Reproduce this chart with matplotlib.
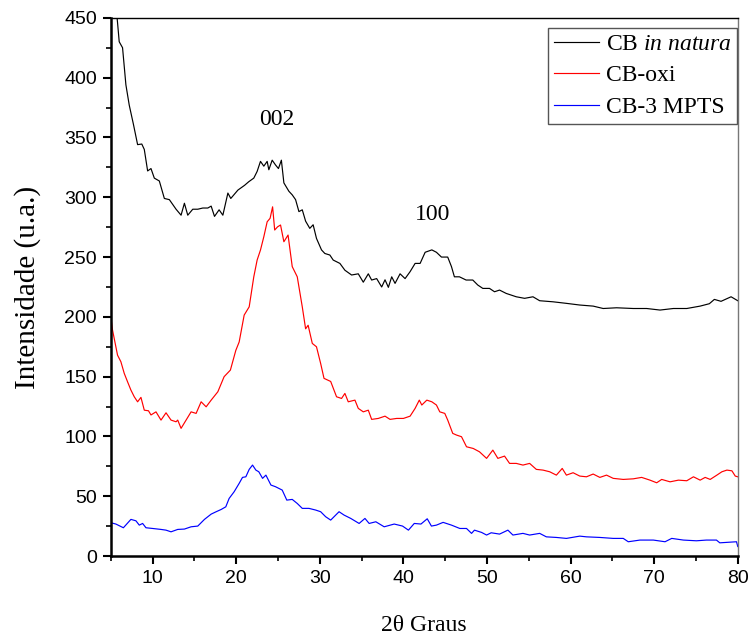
import matplotlib
matplotlib.use("Agg")
import matplotlib.pyplot as plt
from matplotlib.ticker import MultipleLocator

# values (2theta in degrees, intensity in a.u.)
x_natura = [5.0, 5.4, 5.8, 6.0, 6.4, 6.8, 7.2, 7.7, 8.2, 8.7, 9.0, 9.4, 9.8, 10.2, 10.8,
            11.4, 12.0, 12.4, 12.8, 13.4, 13.8, 14.2, 14.8, 15.4, 16.0, 16.6, 17.0, 17.4,
            17.95, 18.4, 19.0, 19.35, 20.2, 21.0, 21.5, 22.1, 22.5, 22.9, 23.3, 23.7, 23.9,
            24.3, 24.7, 25.05, 25.4, 25.7, 26.3, 26.7, 27.1, 27.5, 27.9, 28.3, 28.8, 29.2,
            29.6, 30.2, 30.6, 31.2, 31.6, 32.4, 33.0, 33.8, 34.6, 35.2, 35.8, 36.2, 36.8,
            37.4, 37.8, 38.2, 38.6, 39.0, 39.6, 40.2, 40.8, 41.4, 42.0, 42.6, 43.4, 43.95,
            44.55, 45.3, 45.75, 46.1, 46.7, 47.5, 48.3, 48.9, 49.5, 50.3, 50.9, 51.5, 52.3,
            53.5, 54.5, 55.5, 56.3, 57.9, 59.5, 61.1, 62.7, 63.9, 65.5, 67.5, 69.1, 70.7,
            72.3, 73.9, 75.5, 76.6, 77.2, 78.0, 79.2, 80.0]
y_natura = [520, 475, 446, 430, 425, 394, 377, 361, 344, 344.5, 340, 322, 324, 316, 313.6,
            299, 298, 294, 290, 285, 295, 285, 290, 290, 291, 291, 292.6, 284,
            289.5, 285, 303.5, 299, 306, 310, 313, 316, 321.6, 330, 326, 330, 323,
            331, 327, 324, 331, 312, 305, 302, 298, 288, 289.5, 280, 274, 277,
            265.6, 256, 253, 251.7, 247.5, 244.7, 239, 235, 236, 229, 236, 230.8, 232,
            225, 231, 224.7, 233.5, 228, 236, 232, 237.8, 244.7, 244.7, 254, 256, 254,
            250, 250, 242, 233.5, 233.5, 230.8, 230.8, 226.6, 223.8, 223.8, 221, 222.4, 219.6,
            216.8, 215.5, 216.8, 213.5, 212.6, 211.3, 209.9, 209, 207, 207.6, 207, 207, 205.7,
            207, 207, 209, 211, 214.6, 213, 216.8, 213.5]

x_oxi = [5.0, 5.2, 5.6, 5.8, 6.2, 6.6, 7.0, 7.4, 7.8, 8.2, 8.6, 9.0, 9.5, 9.8, 10.4,
         11.0, 11.6, 12.2, 12.8, 13.0, 13.4, 14.0, 14.6, 15.2, 15.8, 16.4, 17.0, 17.8,
         18.55, 19.3, 19.95, 20.35, 20.95, 21.55, 22.1, 22.5, 22.9, 23.3, 23.7, 24.05,
         24.35, 24.6, 24.95, 25.3, 25.7, 26.2, 26.7, 27.3, 27.9, 28.3, 28.6, 29.1, 29.6,
         30.1, 30.5, 31.3, 32.0, 32.6, 33.0, 33.4, 34.2, 34.6, 35.2, 35.8, 36.2, 37.0,
         37.8, 38.4, 39.2, 40.0, 40.8, 41.4, 41.9, 42.2, 42.8, 43.4, 43.95, 44.35, 44.95,
         45.3, 45.9, 46.35, 46.95, 47.55, 48.35, 49.1, 49.95, 50.7, 51.3, 52.1, 52.7, 53.5,
         54.3, 55.1, 55.9, 56.7, 57.5, 58.3, 59.0, 59.5, 60.3, 61.1, 61.9, 62.7, 63.5, 64.3,
         65.1, 66.3, 67.5, 68.5, 69.5, 70.3, 70.9, 71.9, 72.9, 73.9, 74.7, 75.5, 76.1, 76.7,
         77.5, 78.1, 78.7, 79.3, 79.7, 80.0]
y_oxi = [200, 189, 175, 168, 162.5, 152.8, 145.7, 138.8, 133.2, 129, 132.7, 122, 121.5, 118, 120.6,
         113.7, 119.8, 113.7, 112.3, 113.7, 106.8, 113.7, 120.6, 119.3, 129, 124.8, 130.4, 137.4,
         150, 155.5, 172, 179, 201.5, 208.4, 233.5, 247.5, 255.9, 267, 279.5, 282.4,
         292, 272.6, 275.3, 276.8, 262.8, 268.4, 242, 233.5, 208.4, 190, 193, 177.8, 175,
         161, 148.6, 146, 133.2, 131.8, 136, 129, 130.4, 123.5, 120.6, 122, 114.3, 115.1,
         117, 114.3, 115.1, 115.1, 117, 123.5, 130.4, 126.3, 130.4, 129, 126.3, 120.6, 119.3,
         113.7, 102.6, 101.2, 99.8, 91.4, 90, 87.2, 81.7, 88.6, 81.7, 83.6, 77.5, 77.5,
         76.1, 77.5, 72.5, 71.9, 70.5, 67.7, 73.3, 67.7, 69.7, 66.9, 66.3, 68.6, 65.8, 67.7,
         65, 64.1, 64.6, 65.8, 63.5, 61.3, 64.1, 62.1, 63.5, 63, 66.3, 63.5, 65.8, 64.1,
         67.7, 70.5, 71.9, 71.3, 66.9, 66.3]

x_mpts = [5.0, 5.6, 6.5, 7.4, 8.0, 8.4, 8.8, 9.2, 10.0, 11.0, 11.6, 12.2, 13.0, 13.8, 14.6,
          15.4, 16.2, 17.0, 17.6, 18.2, 18.75, 19.15, 19.75, 20.35, 20.75, 21.15, 21.55,
          21.95, 22.35, 22.7, 23.15, 23.55, 24.15, 24.7, 25.5, 26.05, 26.7, 27.3, 27.9, 28.7,
          29.5, 30.1, 30.7, 31.3, 32.3, 32.9, 33.7, 34.7, 35.4, 35.9, 36.7, 37.7, 38.9, 39.9,
          40.6, 41.3, 42.1, 42.85, 43.35, 43.95, 44.75, 45.75, 46.75, 47.55, 48.15, 48.5,
          49.35, 49.95, 50.5, 51.5, 52.5, 53.1, 54.3, 55.1, 56.3, 57.1, 58.3, 59.5, 61.1,
          61.9, 63.5, 65.1, 66.3, 66.9, 68.3, 69.9, 71.3, 72.1, 73.5, 75.05, 76.25, 77.45,
          77.85, 79.85, 80.0]
y_mpts = [27.9, 26.8, 23.7, 30.7, 29.5, 25.9, 27.3, 23.7, 23.1, 22.3, 21.7, 20.3, 22.3, 22.6, 24.5,
          25.1, 30.7, 35.1, 37.1, 39, 41.2, 48.2, 53.8, 60.8, 65.8, 66.3, 72.5,
          76.1, 71.9, 70.5, 65, 67.7, 59.4, 58, 55.2, 46.8, 47.4, 44, 39.9, 39.9,
          38.5, 37.1, 32.9, 30.1, 37.1, 34.3, 31.5, 27.3, 31.5, 27.3, 28.7, 24.5, 26.8, 25.1,
          21.7, 27.3, 26.8, 31.2, 25.1, 25.9, 28.2, 25.9, 23.1, 23.1, 19, 21.7,
          19.8, 17.6, 19.5, 18.4, 21.7, 17.6, 19, 17.6, 19, 16.1, 15.6, 14.8, 16.7,
          16.1, 15.6, 14.8, 14.8, 12, 13.4, 13.4, 12, 14.8, 13.4, 12.8, 13.4, 13.4,
          11.1, 12, 8]

series_labels = ["CB $\\it{in\\ natura}$", "CB-oxi", "CB-3 MPTS"]
series_colors = ["black", "red", "blue"]
peak_labels = ["002", "100"]
peak_pos = [(24.9, 365), (43.5, 286)]
x_ticks = [10, 20, 30, 40, 50, 60, 70, 80]
y_ticks = [0, 50, 100, 150, 200, 250, 300, 350, 400, 450]

plt.rcParams["mathtext.fontset"] = "custom"
plt.rcParams["mathtext.rm"] = "Liberation Serif"
plt.rcParams["mathtext.it"] = "Liberation Serif:italic"
serif = ["Liberation Serif", "DejaVu Serif"]
narrow = ["Liberation Sans Narrow", "Liberation Sans", "DejaVu Sans"]

fig = plt.figure(figsize=(7.49, 6.37), dpi=100)
ax = fig.add_axes([0.148, 0.127, 0.837, 0.845])

for xs, ys, lab, col in zip([x_natura, x_oxi, x_mpts], [y_natura, y_oxi, y_mpts],
                            series_labels, series_colors):
    ax.plot(xs, ys, color=col, lw=0.85, label=lab)

for txt, (px, py) in zip(peak_labels, peak_pos):
    ax.text(px, py, txt, ha="center", va="center", fontsize=17, family=serif)

ax.set_xlim(5, 80)
ax.set_ylim(0, 450)
ax.set_xticks(x_ticks)
ax.set_yticks(y_ticks)
ax.xaxis.set_minor_locator(MultipleLocator(5))
ax.yaxis.set_minor_locator(MultipleLocator(25))
ax.tick_params(which="major", direction="out", length=6, width=1.5, labelsize=14, pad=4)
ax.tick_params(which="minor", direction="out", length=3.5, width=1.2)
for lab in ax.get_xticklabels() + ax.get_yticklabels():
    lab.set_family(narrow)

ax.spines["left"].set_linewidth(1.8)
ax.spines["bottom"].set_linewidth(1.8)
ax.spines["top"].set_linewidth(1.0)
ax.spines["right"].set_linewidth(1.0)
ax.spines["right"].set_color("#777777")

ax.set_xlabel("2θ Graus", fontsize=17, family=serif, labelpad=20)
ax.set_ylabel("Intensidade (u.a.)", fontsize=21, family=serif, labelpad=17)

leg = ax.legend(loc="upper right", bbox_to_anchor=(0.999, 0.982), fancybox=False,
                prop={"family": serif, "size": 17}, handlelength=1.9, handletextpad=0.3,
                borderpad=0.25, labelspacing=0.42, borderaxespad=0.0, framealpha=1)
leg.get_frame().set_edgecolor("#555555")
leg.get_frame().set_linewidth(1.0)

fig.savefig("out.png", dpi=100)
